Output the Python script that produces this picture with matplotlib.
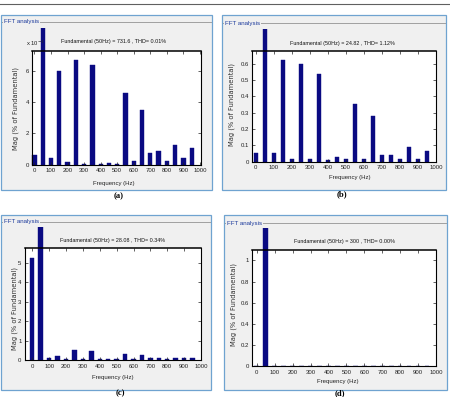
import numpy as np
import matplotlib
matplotlib.use('Agg')
import matplotlib.pyplot as plt
from matplotlib.patches import Rectangle
from matplotlib.lines import Line2D
from matplotlib.transforms import Bbox, TransformedBbox

W, H = 450, 397

# harmonic orders 0..950 Hz, step 50 Hz (fundamental 50 Hz = 100 %, clipped in the panel)
freq = [0, 50, 100, 150, 200, 250, 300, 350, 400, 450,
        500, 550, 600, 650, 700, 750, 800, 850, 900, 950]

mag_a = [0.64e-3, 100, 0.43e-3, 6.0e-3, 0.15e-3, 6.7e-3, 0.06e-3, 6.38e-3, 0.02e-3, 0.09e-3,
         0.06e-3, 4.56e-3, 0.21e-3, 3.49e-3, 0.75e-3, 0.86e-3, 0.21e-3, 1.28e-3, 0.43e-3, 1.07e-3]
mag_b = [0.051, 100, 0.051, 0.626, 0.016, 0.60, 0.014, 0.54, 0.008, 0.029,
         0.014, 0.355, 0.014, 0.277, 0.039, 0.043, 0.014, 0.088, 0.014, 0.064]
mag_c = [5.26, 100, 0.12, 0.24, 0.07, 0.51, 0.07, 0.50, 0.05, 0.05,
         0.07, 0.34, 0.07, 0.29, 0.12, 0.10, 0.07, 0.10, 0.10, 0.10]
mag_d = [0, 100, 0, 0, 0, 0, 0, 0, 0, 0,
         0, 0, 0, 0, 0, 0, 0, 0, 0, 0]

titles = ['Fundamental (50Hz) = 731.6 , THD= 0.01%',
          'Fundamental (50Hz) = 24.82 , THD= 1.12%',
          'Fundamental (50Hz) = 28.08 , THD= 0.34%',
          'Fundamental (50Hz) = 300 , THD= 0.00%']
captions = ['(a)', '(b)', '(c)', '(d)']
xticks = [0, 100, 200, 300, 400, 500, 600, 700, 800, 900, 1000]
yticks_a = [0, 0.002, 0.004, 0.006]
ylabels_a = ['0', '2', '4', '6']
yticks_b = [0, 0.1, 0.2, 0.3, 0.4, 0.5, 0.6]
yticks_c = [0, 1, 2, 3, 4, 5]
yticks_d = [0, 0.2, 0.4, 0.6, 0.8, 1]

NARROW = ['Liberation Sans Narrow', 'Liberation Sans', 'DejaVu Sans']
BAR = '#0a0a82'

fig = plt.figure(figsize=(W / 100, H / 100), dpi=100)
fig.patch.set_facecolor('white')

def P(x, y):
  return x / W, 1 - y / H

def ax_rect(l, t, r, b):
  return [l / W, 1 - b / H, (r - l) / W, (b - t) / H]

# header rule from the page above
fig.add_artist(Line2D([0, 1], [1 - 3.5 / H] * 2, color='#606060', lw=0.8, zorder=-2))

panels = [
  dict(frame=(1, 15, 212, 190), tline=22, ax=(32.3, 50.7, 201, 164.7), clip=28,
       xlim=(-13, 1006), ylim=(0, 0.0073), mag=mag_a, yt=yticks_a, ytl=ylabels_a,
       tt=(114, 41), cap=(119, 196), yl=(16, 108), xl=(114, 183)),
  dict(frame=(222, 15, 446, 190), tline=23, ax=(252.3, 50.7, 436, 161.7), clip=29,
       xlim=(-20, 1000), ylim=(0, 0.68), mag=mag_b, yt=yticks_b,
       ytl=['0', '0.1', '0.2', '0.3', '0.4', '0.5', '0.6'],
       tt=(342, 43), cap=(342, 194), yl=(232, 105), xl=(350, 177)),
  dict(frame=(1, 215, 211, 390), tline=222, ax=(25, 248.3, 201, 360.3), clip=227,
       xlim=(-43, 1000), ylim=(0, 5.74), mag=mag_c, yt=yticks_c,
       ytl=['0', '1', '2', '3', '4', '5'],
       tt=(113, 240), cap=(120, 393), yl=(15, 308), xl=(113, 378)),
  dict(frame=(224, 215, 447, 390), tline=223, ax=(252.3, 249.7, 436, 366.3), clip=228,
       xlim=(-25, 1000), ylim=(0, 1.1), mag=mag_d, yt=yticks_d,
       ytl=['0', '0.2', '0.4', '0.6', '0.8', '1'],
       tt=(345, 241), cap=(340, 393), yl=(234, 305), xl=(338, 381)),
]

for i, p in enumerate(panels):
  l, t, r, b = p['frame']
  x0, y0 = P(l, b)
  fig.add_artist(Rectangle((x0, y0), (r - l) / W, (b - t) / H, transform=fig.transFigure,
                           facecolor='#f0f0f0', edgecolor='#6fa3d0', lw=0.9, zorder=-1))
  ty = 1 - p['tline'] / H
  fig.add_artist(Line2D([(l + 1) / W, (r - 1) / W], [ty, ty], color='#a0a0a0', lw=0.7, zorder=-0.5))
  fig.text((l + 3) / W, ty, 'FFT analysis', fontsize=4.4, family=NARROW, color='#1c3a9c',
           va='center', ha='left', zorder=3,
           bbox=dict(facecolor='#f0f0f0', edgecolor='none', pad=0.6))

  ax = fig.add_axes(ax_rect(*p['ax']))
  ax.set_facecolor('white')
  bars = ax.bar(freq, p['mag'], width=26, color=BAR, edgecolor=BAR, lw=0.3)
  cb = TransformedBbox(Bbox.from_extents(l / W, 1 - b / H, r / W, 1 - p['clip'] / H), fig.transFigure)
  for bar in bars:
    bar.set_clip_box(cb)
  ax.set_xlim(*p['xlim'])
  ax.set_ylim(*p['ylim'])
  ax.set_xticks(xticks)
  ax.set_xticklabels([str(v) for v in xticks], fontsize=4.3, family=NARROW)
  ax.set_yticks(p['yt'])
  ax.set_yticklabels(p['ytl'], fontsize=4.3, family=NARROW)
  ax.tick_params(direction='in', top=True, right=True, length=2.2, width=0.5, pad=2.5, colors='#222222')
  for s in ax.spines.values():
    s.set_linewidth(0.8)
  ax.spines['top'].set_linewidth(1.1)

  fig.text(*P(*p['tt']), titles[i], fontsize=3.9, family=NARROW, ha='center', va='center', color='#111111')
  fig.text(*P(*p['yl']), 'Mag (% of Fundamental)', fontsize=4.9, rotation=90,
           ha='center', va='center', color='#333333')
  fig.text(*P(*p['xl']), 'Frequency (Hz)', fontsize=4.3, family=NARROW, ha='center', va='center', color='#222222')
  fig.text(*P(*p['cap']), captions[i], fontsize=6.2, family='Liberation Serif', weight='bold',
           ha='center', va='center')

# exponent of the first panel
fig.text(*P(26, 43), r'x 10$^{-3}$', fontsize=4.2, family=NARROW, ha='left', va='center', color='#222222')

fig.savefig('out.png', dpi=100)
